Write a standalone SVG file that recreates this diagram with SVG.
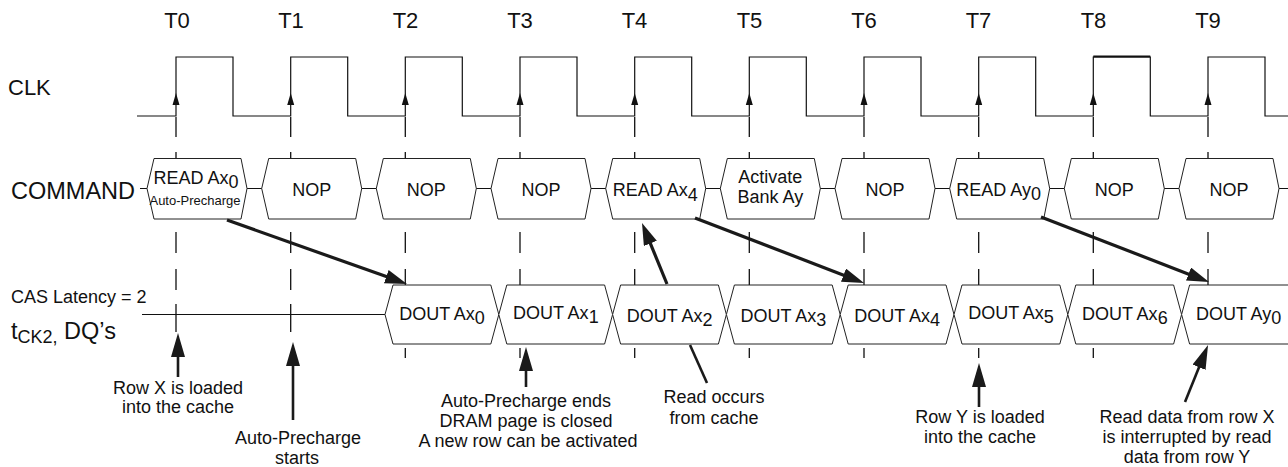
<svg xmlns="http://www.w3.org/2000/svg" xmlns:xlink="http://www.w3.org/1999/xlink" width="1288" height="467" viewBox="0 0 1288 467">
<style>
text{font-family:"Liberation Sans",Arial,Helvetica,sans-serif;fill:#111}
.tl{font-size:22px;text-anchor:middle}
.lbl{font-size:22px}
.big{font-size:23.5px}
.mid{font-size:18px;text-anchor:middle}
.sm{font-size:18px}
.tiny{font-size:13px;text-anchor:middle}
.box{fill:#fff;stroke:#222;stroke-width:1}
.wire{fill:none;stroke:#111;stroke-width:1.2}
.dash{fill:none;stroke:#111;stroke-width:1.3}
.arr{fill:none;stroke:#1a1a1a;stroke-width:3.2}
.ptr{fill:none;stroke:#1a1a1a;stroke-width:2.6}
</style>
<defs>
<marker id="ah" markerUnits="userSpaceOnUse" markerWidth="24" markerHeight="16" refX="12" refY="7" orient="auto" viewBox="0 0 24 16">
<path d="M0,0 L22,7 L0,14 z" fill="#1a1a1a"/>
</marker>
<marker id="ah2" markerUnits="userSpaceOnUse" markerWidth="26" markerHeight="16" refX="14" refY="7" orient="auto" viewBox="0 0 26 16">
<path d="M0,0 L24,7 L0,14 z" fill="#1a1a1a"/>
</marker>
<path id="clkarr" d="M0,-11 L-3.5,1 L3.5,1 z" fill="#111"/>
<polygon id="cmdbox" class="box" points="0,30 7,0 94,0 100,30 94,60.5 7,60.5"/>
<polygon id="dbox" class="box" points="0,29.5 8,0 105.8,0 113.8,29.5 105.8,59 8,59"/>
</defs>

<g id="labels">
<text class="tl" x="177" y="28">T0</text>
<text class="tl" x="291" y="28">T1</text>
<text class="tl" x="405.5" y="28">T2</text>
<text class="tl" x="520" y="28">T3</text>
<text class="tl" x="634.5" y="28">T4</text>
<text class="tl" x="749.5" y="28">T5</text>
<text class="tl" x="864" y="28">T6</text>
<text class="tl" x="978.5" y="28">T7</text>
<text class="tl" x="1093.5" y="28">T8</text>
<text class="tl" x="1208" y="28">T9</text>
<text class="lbl" x="8" y="95">CLK</text>
<text class="big" x="11" y="199">COMMAND</text>
<text class="sm" x="11" y="303">CAS Latency = 2</text>
<text class="big" x="11" y="339">t<tspan class="sm" dy="4">CK2,</tspan><tspan dy="-4"> DQ’s</tspan></text>
</g>

<g id="clock">
<path class="wire" d="M137,116 H176 V57 H233 V116 H290.7 V57 H347.7 V116 H405.3 V57 H462.3 V116 H520 V57 H577 V116 H634.7 V57 H691.7 V116 H749.3 V57 H806.3 V116 H864 V57 H921 V116 H978.7 V57 H1035.7 V116 H1093.3 V57 H1150.3 V116 H1208 V57 H1265 V116 H1288"/>
<path d="M1093.3,56.5 H1150.3" stroke="#111" stroke-width="2.2"/>
<use xlink:href="#clkarr" href="#clkarr" x="176" y="104"/>
<use xlink:href="#clkarr" href="#clkarr" x="290.7" y="104"/>
<use xlink:href="#clkarr" href="#clkarr" x="405.3" y="104"/>
<use xlink:href="#clkarr" href="#clkarr" x="520" y="104"/>
<use xlink:href="#clkarr" href="#clkarr" x="634.7" y="104"/>
<use xlink:href="#clkarr" href="#clkarr" x="749.3" y="104"/>
<use xlink:href="#clkarr" href="#clkarr" x="864" y="104"/>
<use xlink:href="#clkarr" href="#clkarr" x="978.7" y="104"/>
<use xlink:href="#clkarr" href="#clkarr" x="1093.3" y="104"/>
<use xlink:href="#clkarr" href="#clkarr" x="1208" y="104"/>
</g>

<g id="gridlines">
<path class="dash" d="M176,117V137M176,152V160M176,232V253M176,269V290M176,304V332"/>
<path class="dash" d="M290.7,117V137M290.7,152V160M290.7,232V253M290.7,269V290M290.7,304V332"/>
<path class="dash" d="M405.3,117V137M405.3,152V160M405.3,232V253M405.3,269V290M405.3,348V358"/>
<path class="dash" d="M520,117V137M520,152V160M520,232V253M520,269V290M520,348V358"/>
<path class="dash" d="M634.7,117V137M634.7,152V160M634.7,232V253M634.7,269V290M634.7,348V358"/>
<path class="dash" d="M749.3,117V137M749.3,152V160M749.3,232V253M749.3,269V290M749.3,348V358"/>
<path class="dash" d="M864,117V137M864,152V160M864,232V253M864,269V290M864,348V358"/>
<path class="dash" d="M978.7,117V137M978.7,152V160M978.7,232V253M978.7,269V290M978.7,348V358"/>
<path class="dash" d="M1093.3,117V137M1093.3,152V160M1093.3,232V253M1093.3,269V290M1093.3,348V358"/>
<path class="dash" d="M1208,117V137M1208,152V160M1208,232V253M1208,269V290"/>
</g>

<g id="buslines">
<path class="wire" d="M140,188.5 H1288"/>
<path class="wire" d="M142,314.5 H385"/>
</g>

<g id="cmd0" transform="translate(147,158.5)"><use xlink:href="#cmdbox" href="#cmdbox"/><text class="mid" x="49" y="25.5">READ Ax<tspan dy="4">0</tspan></text><text class="tiny" x="48" y="46.5">Auto-Precharge</text></g>
<g id="cmd1" transform="translate(261.7,158.5)"><use xlink:href="#cmdbox" href="#cmdbox"/><text class="mid" x="50" y="37.5">NOP</text></g>
<g id="cmd2" transform="translate(376.3,158.5)"><use xlink:href="#cmdbox" href="#cmdbox"/><text class="mid" x="50" y="37.5">NOP</text></g>
<g id="cmd3" transform="translate(491,158.5)"><use xlink:href="#cmdbox" href="#cmdbox"/><text class="mid" x="50" y="37.5">NOP</text></g>
<g id="cmd4" transform="translate(605.7,158.5)"><use xlink:href="#cmdbox" href="#cmdbox"/><text class="mid" x="49.5" y="37.5">READ Ax<tspan dy="4.5">4</tspan></text></g>
<g id="cmd5" transform="translate(720.3,158.5)"><use xlink:href="#cmdbox" href="#cmdbox"/><text class="mid" x="50" y="24.5">Activate</text><text class="mid" x="50" y="44.5">Bank Ay</text></g>
<g id="cmd6" transform="translate(835,158.5)"><use xlink:href="#cmdbox" href="#cmdbox"/><text class="mid" x="50" y="37.5">NOP</text></g>
<g id="cmd7" transform="translate(949.7,158.5)"><use xlink:href="#cmdbox" href="#cmdbox"/><text class="mid" x="49" y="37.5">READ Ay<tspan dy="4">0</tspan></text></g>
<g id="cmd8" transform="translate(1064.3,158.5)"><use xlink:href="#cmdbox" href="#cmdbox"/><text class="mid" x="50" y="37.5">NOP</text></g>
<g id="cmd9" transform="translate(1179,158.5)"><use xlink:href="#cmdbox" href="#cmdbox"/><text class="mid" x="50" y="37.5">NOP</text></g>

<g id="dq0" transform="translate(385,285)"><use xlink:href="#dbox" href="#dbox"/><text class="mid" x="57" y="35">DOUT Ax<tspan dy="4">0</tspan></text></g>
<g id="dq1" transform="translate(498.8,285)"><use xlink:href="#dbox" href="#dbox"/><text class="mid" x="57" y="34">DOUT Ax<tspan dy="4">1</tspan></text></g>
<g id="dq2" transform="translate(612.6,285)"><use xlink:href="#dbox" href="#dbox"/><text class="mid" x="57" y="37">DOUT Ax<tspan dy="4">2</tspan></text></g>
<g id="dq3" transform="translate(726.4,285)"><use xlink:href="#dbox" href="#dbox"/><text class="mid" x="57" y="37">DOUT Ax<tspan dy="4">3</tspan></text></g>
<g id="dq4" transform="translate(840.2,285)"><use xlink:href="#dbox" href="#dbox"/><text class="mid" x="57" y="37">DOUT Ax<tspan dy="4">4</tspan></text></g>
<g id="dq5" transform="translate(954,285)"><use xlink:href="#dbox" href="#dbox"/><text class="mid" x="57" y="34">DOUT Ax<tspan dy="4">5</tspan></text></g>
<g id="dq6" transform="translate(1067.8,285)"><use xlink:href="#dbox" href="#dbox"/><text class="mid" x="57" y="35">DOUT Ax<tspan dy="4">6</tspan></text></g>
<g id="dq7" transform="translate(1181.6,285)"><polyline class="box" points="107,0 8,0 0,29.5 8,59 107,59"/><text class="mid" x="57" y="35">DOUT Ay<tspan dy="4">0</tspan></text></g>

<g id="note-rowx"><text class="mid" x="178" y="394">Row X is loaded</text><text class="mid" x="178" y="413">into the cache</text></g>
<g id="note-apstart"><text class="mid" x="298" y="444">Auto-Precharge</text><text class="mid" x="297" y="464">starts</text></g>
<g id="note-apend"><text class="mid" x="526" y="407">Auto-Precharge ends</text><text class="mid" x="526" y="427">DRAM page is closed</text><text class="mid" x="528" y="447">A new row can be activated</text></g>
<g id="note-cache"><text class="mid" x="714" y="403">Read occurs</text><text class="mid" x="714" y="424">from cache</text></g>
<g id="note-rowy"><text class="mid" x="980" y="423">Row Y is loaded</text><text class="mid" x="980" y="443">into the cache</text></g>
<g id="note-interrupt"><text class="mid" x="1187" y="423">Read data from row X</text><text class="mid" x="1187" y="443">is interrupted by read</text><text class="mid" x="1187" y="463">data from row Y</text></g>

<g id="connectors">
<path class="arr" marker-end="url(#ah)" d="M227,220 L397.6,280.6"/>
<path class="arr" marker-end="url(#ah)" d="M667,284 L645.8,232.3"/>
<path class="arr" marker-end="url(#ah)" d="M695,218 L854.7,279.4"/>
<path class="arr" marker-end="url(#ah)" d="M1041,217 L1199.7,278.4"/>
<path class="ptr" marker-end="url(#ah2)" d="M178,377 L178,343"/>
<path class="ptr" marker-end="url(#ah2)" d="M293,420 L293,352"/>
<path class="ptr" marker-end="url(#ah2)" d="M526,387 L526,357"/>
<path class="ptr" d="M707,383 L690,345"/>
<path class="ptr" marker-end="url(#ah2)" d="M979,407 L979,373"/>
<path class="ptr" marker-end="url(#ah2)" d="M1185,402 L1204.3,354.3"/>
</g>
</svg>
